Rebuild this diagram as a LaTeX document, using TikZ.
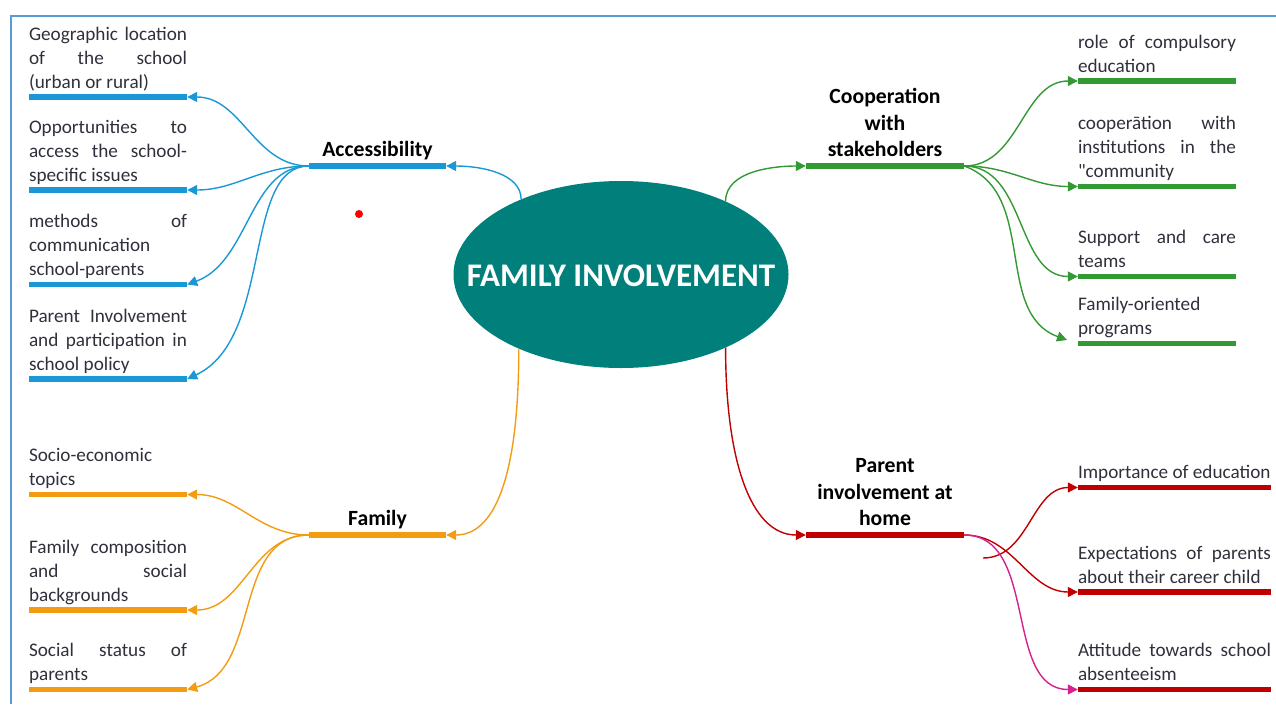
\documentclass[tikz,border=0pt]{standalone}
\usepackage{fontspec}
\setmainfont{Carlito}
\newfontfamily\plainfont{Carlito}
\usetikzlibrary{positioning,shapes.geometric,arrows.meta}
\definecolor{framecol}{HTML}{5B9BD5}
\definecolor{hubcol}{HTML}{007F7B}
\definecolor{bluecol}{HTML}{1A98D5}
\definecolor{orangecol}{HTML}{F39C12}
\definecolor{greencol}{HTML}{339933}
\definecolor{redcol}{HTML}{C00000}
\definecolor{pinkcol}{HTML}{D6218C}
\definecolor{textcol}{HTML}{30303C}
\newcommand{\fl}[2][158pt]{\makebox[#1][s]{\spaceskip=.2em plus 1fil\relax #2}}
\tikzset{
  bar/.style={rectangle,fill=#1,inner sep=0pt,minimum height=5.5pt},
  leaf/.style={inner sep=0pt,text width=158pt,align=flush left,text=textcol,font=\fontsize{19.2}{24}\selectfont},
  topic/.style={inner sep=0pt,text width=158pt,align=flush center,font=\bfseries\fontsize{21.7}{26.5}\selectfont},
  link/.style={draw=#1,line width=1.4pt,-{Triangle[length=10pt,width=10pt]}}
}
\begin{document}
\begin{tikzpicture}[x=1pt,y=-1pt]
\useasboundingbox (0,0) rectangle (1276,704);
\draw[framecol,line width=1.4pt] (1276,16) -- (11,16) -- (11,704);
\fill[red] (359,214) circle (4pt);
\node[ellipse,fill=hubcol,inner sep=0pt,minimum width=335pt,minimum height=187pt] (hub) at (621,274.5) {};
\node[text=white,font=\bfseries\fontsize{33}{36}\selectfont] (hubT) at (621,276) {FAMILY INVOLVEMENT};

\node[bar=bluecol,minimum width=137pt] (acc) at (377.5,166) {};
\node[bar=orangecol,minimum width=137pt] (fam) at (377.5,535) {};
\node[bar=greencol,minimum width=158pt] (coop) at (885,166) {};
\node[bar=redcol,minimum width=158pt] (home) at (885,535) {};
\node[topic,above=-2pt of acc] (accT) {Accessibility\strut};
\node[topic,above=-2pt of fam] (famT) {Family\strut};
\node[topic,above=-2pt of coop] (coopT) {Cooperation\\with\\stakeholders\strut};
\node[topic,above=-2pt of home] (homeT) {Parent\\involvement at\\home\strut};

\node[bar=bluecol,minimum width=158pt] (acc1) at (108,97) {};
\node[bar=bluecol,minimum width=158pt] (acc2) at (108,190) {};
\node[bar=bluecol,minimum width=158pt] (acc3) at (108,284.5) {};
\node[bar=bluecol,minimum width=158pt] (acc4) at (108,379) {};
\node[bar=orangecol,minimum width=158pt] (fam1) at (108,494.5) {};
\node[bar=orangecol,minimum width=158pt] (fam2) at (108,610) {};
\node[bar=orangecol,minimum width=158pt] (fam3) at (108,689.5) {};
\node[bar=greencol,minimum width=158pt] (coop1) at (1157,81) {};
\node[bar=greencol,minimum width=158pt] (coop2) at (1157,186.5) {};
\node[bar=greencol,minimum width=158pt] (coop3) at (1157,276.5) {};
\node[bar=greencol,minimum width=158pt] (coop4) at (1157,343.5) {};
\node[bar=redcol,minimum width=193pt] (home1) at (1174.5,487.5) {};
\node[bar=redcol,minimum width=193pt] (home2) at (1174.5,592) {};
\node[bar=redcol,minimum width=193pt] (home3) at (1174.5,689.5) {};

\node[leaf,above=-1.5pt of acc1] (acc1T) {\fl{Geographic location}\\\fl{of the school}\\(urban or rural)\strut};
\node[leaf,above=-1.5pt of acc2] (acc2T) {\fl{Opportunities to}\\\fl{access the school-}\\specific issues\strut};
\node[leaf,above=-1.5pt of acc3] (acc3T) {\fl{methods of}\\communication\\school-parents\strut};
\node[leaf,above=-1.5pt of acc4] (acc4T) {\fl{Parent Involvement}\\\fl{and participation in}\\school policy\strut};
\node[leaf,above=-1.5pt of fam1] (fam1T) {Socio-economic\\topics\strut};
\node[leaf,above=-1.5pt of fam2] (fam2T) {\fl{Family composition}\\\fl{and social}\\backgrounds\strut};
\node[leaf,above=-1.5pt of fam3] (fam3T) {\fl{Social status of}\\parents\strut};
\node[leaf,above=-1.5pt of coop1] (coop1T) {\fl{role of compulsory}\\education\strut};
\node[leaf,above=-1.5pt of coop2] (coop2T) {\fl{cooperātion with}\\\fl{institutions in the}\\{\plainfont"}community\strut};
\node[leaf,above=-1.5pt of coop3] (coop3T) {\fl{Support and care}\\teams\strut};
\node[leaf,above=-1.5pt of coop4] (coop4T) {Family-oriented\\programs\strut};
\node[leaf,text width=193pt,above=-1.5pt of home1] (home1T) {Importance of education\strut};
\node[leaf,text width=193pt,above=-1.5pt of home2] (home2T) {\fl[193pt]{Expectations of parents}\\about their career child\strut};
\node[leaf,text width=193pt,above=-1.5pt of home3] (home3T) {\fl[193pt]{Attitude towards school}\\absenteeism\strut};

\coordinate (coopEnd) at (1067,340);
\coordinate (homeStart) at (983,558);

\draw[link=bluecol] (hub.143) to[out=90,in=0,out looseness=.8,in looseness=1.1] (acc.east);
\draw[link=orangecol] (hub.216) to[out=-90,in=0,out looseness=1.7,in looseness=.6] (fam.east);
\draw[link=greencol] (hub.35) to[out=90,in=180,out looseness=.9,in looseness=.9] (coop.west);
\draw[link=redcol] (hub.325) to[out=-90,in=180,out looseness=1.4,in looseness=.7] (home.west);
\foreach \n in {acc1,acc2}
  \draw[link=bluecol] (acc.west) to[out=180,in=0] (\n.east);
\draw[link=bluecol] (acc.west) to[out=180,in=20,out looseness=.9] (acc3.east);
\draw[link=bluecol] (acc.west) to[out=180,in=25,out looseness=.7] (acc4.east);
\foreach \n in {fam1,fam2}
  \draw[link=orangecol] (fam.west) to[out=180,in=0] (\n.east);
\draw[link=orangecol] (fam.west) to[out=180,in=15] (fam3.east);
\foreach \n in {coop1,coop2,coop3}
  \draw[link=greencol] (coop.east) to[out=0,in=180] (\n.west);
\draw[link=greencol] (coop.east) to[out=-20,in=160] (coopEnd);
\draw[link=redcol] (homeStart) to[out=0,in=180] (home1.west);
\draw[link=redcol] (home.east) to[out=0,in=180] (home2.west);
\draw[link=pinkcol] (home.east) to[out=0,in=180] (home3.west);
\end{tikzpicture}
\end{document}
